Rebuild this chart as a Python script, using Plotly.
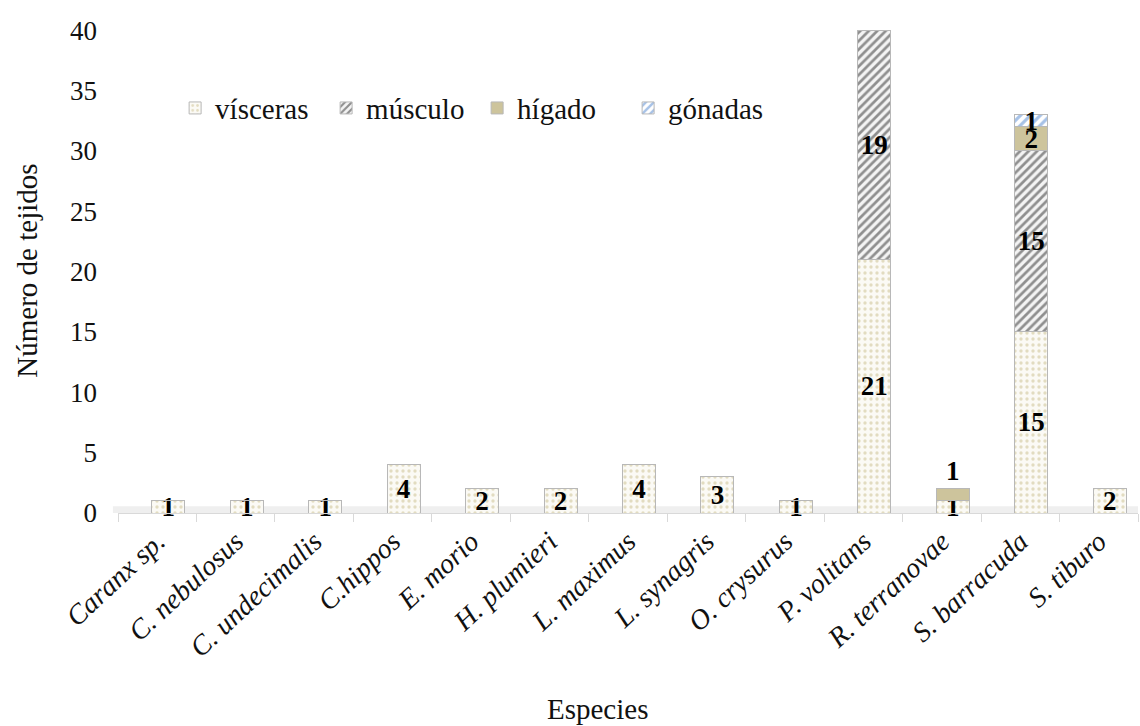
import plotly.graph_objects as go

especies = ["Caranx sp.", "C. nebulosus", "C. undecimalis", "C.hippos", "E. morio",
            "H. plumieri", "L. maximus", "L. synagris", "O. crysurus", "P. volitans",
            "R. terranovae", "S. barracuda", "S. tiburo"]

visceras = [1, 1, 1, 4, 2, 2, 4, 3, 1, 21, 1, 15, 2]
musculo = [0, 0, 0, 0, 0, 0, 0, 0, 0, 19, 0, 15, 0]
higado = [0, 0, 0, 0, 0, 0, 0, 0, 0, 0, 1, 2, 0]
gonadas = [0, 0, 0, 0, 0, 0, 0, 0, 0, 0, 0, 1, 0]

y_ticks = [0, 5, 10, 15, 20, 25, 30, 35, 40]

SERIF = "Liberation Serif"
INK = "#111111"

series = [
    ("vísceras", visceras, dict(color="white", pattern=dict(shape=".", fgcolor="#c9bd8c", bgcolor="#fbfaf5", size=6, solidity=0.25))),
    ("músculo", musculo, dict(color="white", pattern=dict(shape="/", fgcolor="#2a2a2a", bgcolor="#f4f4f4", size=6, solidity=0.45))),
    ("hígado", higado, dict(color="#cdc49c")),
    ("gónadas", gonadas, dict(color="white", pattern=dict(shape="/", fgcolor="#4f86d0", bgcolor="white", size=7, solidity=0.45))),
]

BAR_W = 0.42
BAR_SHIFT = 0.14  # columns sit slightly right of the category centre

fig = go.Figure()
for name, vals, marker in series:
    labels = [str(v) if v else "" for v in vals]
    # a short liver segment on top of a one-unit column gets its label just above it
    positions = ["outside" if (name == "hígado" and v and visceras[i] + v <= 2) else "inside"
                 for i, v in enumerate(vals)]
    fig.add_trace(go.Bar(
        name=name,
        x=especies,
        y=vals,
        width=BAR_W,
        offset=-BAR_W / 2 + BAR_SHIFT,
        text=labels,
        texttemplate="%{text}",
        textposition=positions,
        insidetextanchor="middle",
        textangle=0,
        constraintext="none",
        cliponaxis=False,
        textfont=dict(family=SERIF, size=27, color="black", weight="bold"),
        outsidetextfont=dict(family=SERIF, size=27, color="black", weight="bold"),
        marker=dict(line=dict(color="#b8b8b8", width=1), **marker),
    ))

# floor under the columns
fig.add_shape(type="rect", xref="paper", yref="y", x0=-0.005, x1=1.0, y0=0, y1=0.55,
              fillcolor="#efefef", line=dict(width=0), layer="below")

fig.update_layout(
    barmode="stack",
    width=1140, height=726,
    margin=dict(l=118, r=2, t=18, b=213),
    paper_bgcolor="white",
    plot_bgcolor="white",
    font=dict(family=SERIF, size=27, color=INK),
    uniformtext=dict(minsize=27, mode="show"),
    showlegend=True,
    legend=dict(orientation="h", x=0.056, y=0.818, xanchor="left", yanchor="middle",
                font=dict(family=SERIF, size=29, color=INK),
                bgcolor="rgba(0,0,0,0)", itemwidth=30, traceorder="normal",
                entrywidth=106, entrywidthmode="pixels"),
    xaxis=dict(
        tickmode="array",
        tickvals=especies,
        ticktext=[f"<i>{e}</i>" for e in especies],
        tickangle=-43,
        tickfont=dict(family=SERIF, size=28, color=INK),
        showline=True, linecolor="#d9d9d9", linewidth=1,
        ticks="outside", tickson="boundaries", ticklen=8, tickcolor="#d9d9d9",
        showgrid=False,
    ),
    yaxis=dict(
        range=[0, 41],
        tickmode="array",
        tickvals=y_ticks,
        tickfont=dict(family=SERIF, size=27, color=INK),
        showgrid=False, zeroline=False, showline=False,
        ticklabelstandoff=20,
    ),
    annotations=[
        dict(text="Especies", xref="paper", yref="paper", x=0.47, y=-0.396,
             xanchor="center", yanchor="middle", showarrow=False,
             font=dict(family=SERIF, size=29, color=INK)),
        dict(text="Número de tejidos", xref="paper", yref="paper", x=-0.089, y=0.49,
             xanchor="center", yanchor="middle", textangle=-90, showarrow=False,
             font=dict(family=SERIF, size=29, color=INK)),
    ],
)

fig.write_html("out.html")
